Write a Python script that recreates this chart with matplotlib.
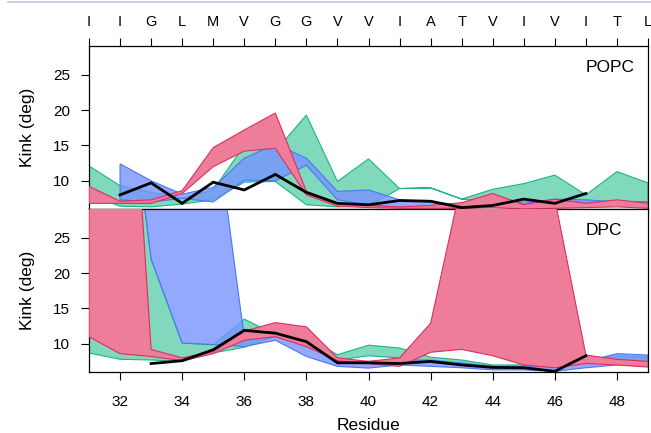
import numpy as np
import matplotlib
matplotlib.use("Agg")
import matplotlib.pyplot as plt
from matplotlib.lines import Line2D

plt.rcParams['font.family'] = ['Liberation Sans', 'DejaVu Sans']

nan = np.nan
residues = np.arange(31, 50)
sequence = ["I", "I", "G", "L", "M", "V", "G", "G", "V", "V",
            "I", "A", "T", "V", "I", "V", "I", "T", "L"]

# ---- POPC: kink ranges per system (lower / upper envelope) and mean ----
popc_green_hi = [12.1, 9.3, 8.4, 7.5, 8.7, 15.0, 14.2, 19.3, 9.9, 13.1,
                 8.9, 9.0, 7.4, 8.8, 9.6, 10.8, 8.0, 11.3, 9.7]
popc_green_lo = [8.0, 6.4, 6.3, 6.7, 7.3, 9.8, 9.9, 6.6, 6.3, 6.4,
                 8.9, 9.0, 7.4, 7.0, 7.0, 7.0, 7.0, 7.0, 7.0]
popc_blue_hi = [nan, 12.4, 10.0, 8.1, 9.05, 13.2, 15.2, 13.2, 8.5, 8.7,
                7.3, 7.0, 6.6, 7.9, 6.8, 7.4, 7.3, 7.0, 7.0]
popc_blue_lo = [nan, 7.3, 7.0, 7.5, 7.0, 10.1, 10.0, 12.2, 7.3, 6.6,
                6.2, 6.2, 6.1, 6.3, 6.2, 6.5, 6.5, 6.5, 6.5]
popc_pink_hi = [9.2, 7.1, 7.3, 8.6, 14.7, 17.2, 19.6, 8.5, 6.8, 6.5,
                6.3, 6.5, 6.9, 8.2, 6.6, 7.4, 6.8, 7.3, 6.8]
popc_pink_lo = [6.8, 6.8, 6.8, 8.2, 12.0, 14.2, 14.6, 8.0, 6.4, 6.2,
                6.1, 6.1, 6.1, 6.2, 6.0, 6.1, 6.2, 6.3, 6.1]
popc_mean = [nan, 8.0, 9.7, 6.8, 9.8, 8.7, 10.9, 8.35, 6.8, 6.6,
             7.2, 7.1, 6.2, 6.5, 7.4, 6.8, 8.2, nan, nan]

# ---- DPC ----
dpc_green_hi = [11.0, 58.0, 22.0, 10.1, 9.85, 13.5, 11.3, 11.0, 8.45, 9.8,
                9.4, 8.1, 7.7, 7.0, 7.0, 7.2, 7.7, 8.3, 8.1]
dpc_green_lo = [8.7, 7.8, 7.7, 7.5, 8.7, 9.5, 11.1, 10.1, 7.7, 8.3,
                8.0, 7.3, 7.0, 6.8, 6.6, 6.8, 7.2, 7.5, 7.3]
dpc_blue_hi = [nan, 80.0, 80.0, 60.0, 44.0, 10.9, 11.0, 10.1, 7.5, 7.5,
               7.7, 7.7, 7.3, 6.8, 6.8, 6.9, 7.5, 8.6, 8.4]
dpc_blue_lo = [nan, 57.0, 22.0, 10.1, 9.9, 9.6, 10.5, 8.2, 6.8, 6.55,
               7.0, 6.8, 6.6, 6.3, 6.3, 6.1, 6.6, 7.0, 6.8]
dpc_pink_hi = [80.0, 77.0, 9.2, 8.0, 8.9, 11.8, 13.0, 12.4, 8.0, 7.5,
               8.0, 12.9, 33.0, 34.0, 33.0, 30.5, 8.4, 7.8, 7.5]
dpc_pink_lo = [11.0, 8.6, 8.2, 7.6, 8.6, 10.5, 11.0, 9.6, 7.6, 7.2,
               6.8, 8.8, 9.2, 8.3, 7.0, 6.6, 7.2, 7.0, 6.7]
dpc_mean = [nan, nan, 7.2, 7.6, 9.15, 11.9, 11.5, 10.3, 7.3, 7.3,
            7.2, 7.5, 7.0, 6.65, 6.6, 6.1, 8.3, nan, nan]

y_ticks = [10, 15, 20, 25]
x_ticks = [32, 34, 36, 38, 40, 42, 44, 46, 48]

# fill colour (rgba) and outline colour for each system
styles = {
    "green": ((0.38, 0.81, 0.68, 0.8), "#22b383"),
    "blue": ((0.47, 0.58, 1.00, 0.8), "#4a78f2"),
    "pink": ((0.93, 0.49, 0.60, 1.0), "#de2d62"),
}

W, H = 651, 433
fig = plt.figure(figsize=(W / 100, H / 100), dpi=100)


def fr(x0, y0, x1, y1):
    return [x0 / W, 1 - y1 / H, (x1 - x0) / W, (y1 - y0) / H]


ax1 = fig.add_axes(fr(89, 46, 648, 209))
ax2 = fig.add_axes(fr(89, 209, 648, 372))


def band(ax, lo, hi, key, z):
    face, edge = styles[key]
    lo = np.asarray(lo, float)
    hi = np.asarray(hi, float)
    ok = ~(np.isnan(lo) | np.isnan(hi))
    xs, l, h = residues[ok], lo[ok], hi[ok]
    poly_x = np.concatenate([xs, xs[::-1]])
    poly_y = np.concatenate([h, l[::-1]])
    ax.fill(poly_x, poly_y, facecolor=face, edgecolor=edge, linewidth=0.8,
            zorder=z)


def panel(ax, bands, mean, name):
    for lo, hi, key, z in bands:
        band(ax, lo, hi, key, z)
    ax.plot(residues, mean, color="black", linewidth=2.0, zorder=10,
            solid_joinstyle="miter")
    ax.set_xlim(31, 49)
    ax.set_ylim(6.0, 29.1)
    ax.set_yticks(y_ticks)
    ax.set_ylabel("Kink (deg)", fontsize=12.5)
    ax.yaxis.set_label_coords(-0.097, 0.5)
    ax.tick_params(axis="y", direction="out", length=5.5, width=0.8,
                   labelsize=11, pad=8, right=False)
    for s in ax.spines.values():
        s.set_linewidth(0.9)
    ax.text((586 - 89) / 559, 1 - 22 / 163, name, fontsize=12.5,
            ha="left", va="center", transform=ax.transAxes)


panel(ax1,
      [(popc_green_lo, popc_green_hi, "green", 1),
       (popc_blue_lo, popc_blue_hi, "blue", 2),
       (popc_pink_lo, popc_pink_hi, "pink", 3)],
      popc_mean, "POPC")
panel(ax2,
      [(dpc_green_lo, dpc_green_hi, "green", 1),
       (dpc_blue_lo, dpc_blue_hi, "blue", 2),
       (dpc_pink_lo, dpc_pink_hi, "pink", 3)],
      dpc_mean, "DPC")

# residue letters on top of the upper panel
ax1.set_xticks(residues)
ax1.set_xticklabels(sequence)
ax1.tick_params(axis="x", top=True, bottom=False, labeltop=True,
                labelbottom=False, direction="out", length=5.5, width=0.8,
                labelsize=10.5, pad=7)

ax2.set_xticks(x_ticks)
ax2.tick_params(axis="x", direction="out", length=5.5, width=0.8,
                labelsize=11, pad=11, top=False)
fig.text(368.5 / W, 1 - 425 / H, "Residue", fontsize=12.5,
         ha="center", va="center")

fig.add_artist(Line2D([8 / W, 1], [1 - 1.5 / H, 1 - 1.5 / H],
                      color="#c4c4ea", linewidth=1.2))

fig.savefig("out.png", dpi=100)
